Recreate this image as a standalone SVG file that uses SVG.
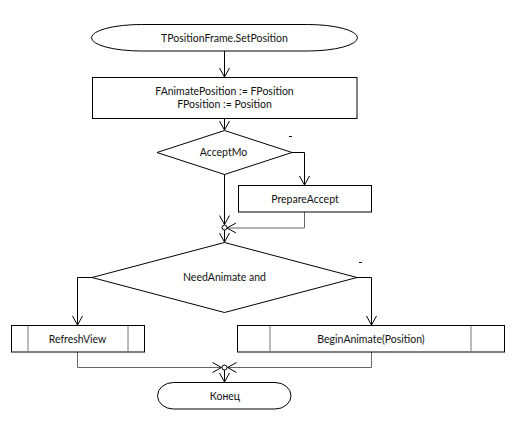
<svg xmlns="http://www.w3.org/2000/svg" width="516" height="421" viewBox="0 0 516 421">
  <defs>
    <marker id="arrow" markerUnits="userSpaceOnUse" markerWidth="12" markerHeight="12" refX="0" refY="0" viewBox="-10 -6 12 12" orient="auto" overflow="visible">
      <path d="M-9,-5 L0,0 L-9,5" fill="none" stroke="#000" stroke-width="1"/>
    </marker>
  </defs>
  <style>
    .shape { fill: #fff; stroke: #000; stroke-width: 1; }
    .inner { stroke: #777; stroke-width: 1; fill: none; }
    .conn { fill: none; stroke: #000; stroke-width: 1; }
    .soft { stroke: #666; }
    .lbl { font-family: Lato, "Liberation Sans", Arial, sans-serif; font-size: 10.5px; fill: #111; text-anchor: middle; dominant-baseline: central; }
    .tick { stroke: #000; stroke-width: 1; fill: none; }
  </style>
  <rect width="516" height="421" fill="#fff"/>

  <!-- connectors -->
  <g id="connectors">
    <path class="conn" d="M224.5,51 V77" marker-end="url(#arrow)"/>
    <path class="conn" d="M224.5,119 V130" marker-end="url(#arrow)"/>
    <path class="conn" d="M292,152.5 H304.5 V185" marker-end="url(#arrow)"/>
    <path class="conn" d="M224.5,174 V224.5" marker-end="url(#arrow)"/>
    <path class="conn soft" d="M304.5,212 V228 H227" marker-end="url(#arrow)"/>
    <circle cx="224.5" cy="227.5" r="2.5" fill="#fff" stroke="#000" stroke-width="1"/>
    <path class="conn" d="M224.5,230 V242" marker-end="url(#arrow)"/>
    <path class="conn" d="M92,277.5 H77.5 V325" marker-end="url(#arrow)"/>
    <path class="conn" d="M357,277.5 H371.5 V325" marker-end="url(#arrow)"/>
    <path class="conn soft" d="M77.5,352 V367.5 H221.5" marker-end="url(#arrow)"/>
    <path class="conn soft" d="M371.5,352 V367.5 H227.5" marker-end="url(#arrow)"/>
    <circle cx="224.5" cy="367.5" r="2.5" fill="#fff" stroke="#000" stroke-width="1"/>
    <path class="conn" d="M224.5,370 V382" marker-end="url(#arrow)"/>
    <path class="tick" d="M289,136.5 H292"/>
    <path class="tick" d="M359,262.5 H362"/>
  </g>

  <g id="start">
    <rect class="shape" x="91.5" y="24.5" width="266" height="26.5" rx="50" ry="13.25"/>
    <text class="lbl" x="224.5" y="38">TPositionFrame.SetPosition</text>
  </g>

  <g id="assign">
    <rect class="shape" x="92.5" y="77.5" width="264.5" height="41"/>
    <text class="lbl" x="224.5" y="91">FAnimatePosition := FPosition</text>
    <text class="lbl" x="224.5" y="104">FPosition := Position</text>
  </g>

  <g id="accept-check">
    <polygon class="shape" points="224.5,130.5 292,152.5 224.5,174.5 157,152.5"/>
    <text class="lbl" x="223.5" y="152">AcceptMo</text>
  </g>

  <g id="prepare-accept">
    <rect class="shape" x="238.5" y="185.5" width="133" height="26.5"/>
    <text class="lbl" x="305" y="199">PrepareAccept</text>
  </g>

  <g id="animate-check">
    <polygon class="shape" points="224.5,242.5 357,277.5 224.5,312.5 92,277.5"/>
    <text class="lbl" x="224.5" y="277">NeedAnimate and</text>
  </g>

  <g id="refresh-view">
    <rect class="shape" x="11.5" y="325.5" width="133" height="26.5"/>
    <path class="inner" d="M28,326 V351.5 M128,326 V351.5"/>
    <text class="lbl" x="77.5" y="339">RefreshView</text>
  </g>

  <g id="begin-animate">
    <rect class="shape" x="237.5" y="325.5" width="267" height="26.5"/>
    <path class="inner" d="M270,326 V351.5 M471,326 V351.5"/>
    <text class="lbl" x="371" y="339">BeginAnimate(Position)</text>
  </g>

  <g id="end">
    <rect class="shape" x="157.5" y="382.5" width="133.5" height="26.5" rx="16" ry="13.25"/>
    <text class="lbl" x="225" y="396">Конец</text>
  </g>
</svg>
